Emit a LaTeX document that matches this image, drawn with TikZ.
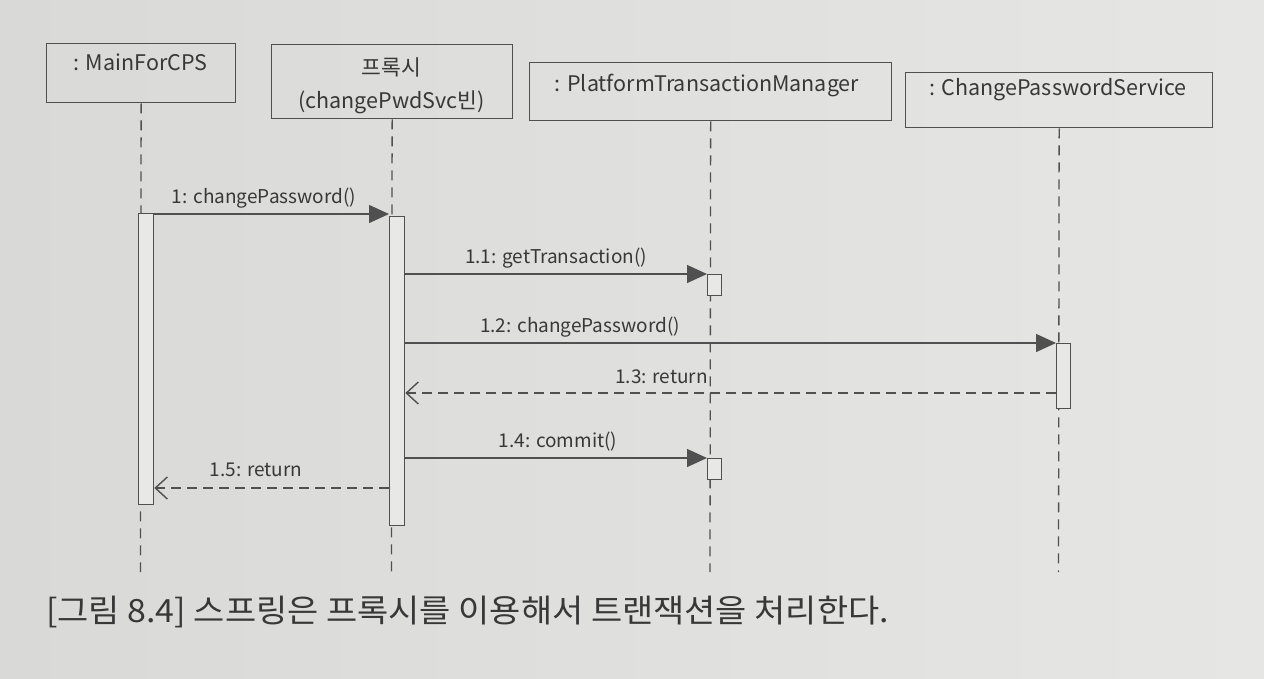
\documentclass[tikz,border=0pt]{standalone}
\usepackage{fontspec}
\usepackage{graphicx}
\setmainfont{Noto Sans CJK KR}
\usetikzlibrary{arrows.meta}
\definecolor{bgl}{HTML}{D9D9D7}
\definecolor{bgr}{HTML}{E6E6E4}
\definecolor{ink}{HTML}{505050}
\definecolor{txt}{HTML}{383838}
\definecolor{actfill}{HTML}{E8E8E6}
\begin{document}
\begin{tikzpicture}[x=1pt,y=-1pt,
  obj/.style={draw=ink, line width=1.3pt, rectangle, inner sep=0pt, anchor=north west},
  objtxt/.style={text=txt, inner sep=0pt, font=\fontsize{21.5}{25}\selectfont},
  life/.style={draw=ink, line width=1.3pt, dash pattern=on 10pt off 7pt},
  act/.style={draw=ink, line width=1.3pt, fill=actfill, rectangle, inner sep=0pt, anchor=north west},
  call/.style={draw=ink, line width=1.4pt, -{Triangle[length=20pt,width=18pt]}},
  ret/.style={draw=ink, line width=1.4pt, dash pattern=on 10pt off 6pt, -{Straight Barb[length=12pt,width=22pt]}},
  lbl/.style={text=txt, inner sep=0pt, font=\fontsize{19}{23}\selectfont}]
\shade[left color=bgl, right color=bgr] (0,0) rectangle (1264,678);
\useasboundingbox (0,0) rectangle (1264,678);
% object boxes
\node[obj, minimum width=189pt, minimum height=59pt] (main) at (46,43) {};
\node[obj, minimum width=241pt, minimum height=74pt] (proxy) at (271,44) {};
\node[obj, minimum width=362pt, minimum height=58pt] (ptm) at (529,62) {};
\node[obj, minimum width=307pt, minimum height=55pt] (cps) at (905,72) {};
\node[objtxt] (maint) at (140.5,62) {: MainForCPS};
\node[objtxt] (proxyt1) at (391.5,67) {프록시};
\node[objtxt] (proxyt2) at (391.5,102) {(changePwdSvc빈)};
\node[objtxt] (ptmt) at (707,85) {: PlatformTransactionManager};
\node[objtxt] (cpst) at (1058,90) {: ChangePasswordService};
% lifeline ends
\coordinate (mainend) at (140.5,572);
\coordinate (proxyend) at (391.5,572);
\coordinate (ptmend) at (710,572);
\coordinate (cpsend) at (1058.5,572);
\draw[life] (main.south) -- (mainend);
\draw[life] (proxy.south) -- (proxyend);
\draw[life] (ptm.south) -- (ptmend);
\draw[life] (cps.south) -- (cpsend);
% activation bars
\node[act, minimum width=15pt, minimum height=291pt] (mainbar) at (138,213) {};
\node[act, minimum width=15pt, minimum height=309pt] (proxybar) at (389,216) {};
\node[act, minimum width=14pt, minimum height=21pt] (ptmbar1) at (707,274) {};
\node[act, minimum width=14pt, minimum height=21pt] (ptmbar2) at (707,458) {};
\node[act, minimum width=14pt, minimum height=65pt] (cpsbar) at (1056,343) {};
% messages
\draw[call] (mainbar.east |- 0,214) -- (proxybar.west |- 0,214);
\node[lbl] (l1) at (264,198) {1: changePassword()};
\draw[call] (proxybar.east |- 0,274) -- (ptmbar1.north west);
\node[lbl] (l11) at (556,258) {1.1: getTransaction()};
\draw[call] (proxybar.east |- 0,343) -- (cpsbar.north west);
\node[lbl] (l12) at (580,327) {1.2: changePassword()};
\draw[ret] (cpsbar.west |- 0,393) -- (proxybar.east |- 0,393);
\node[lbl, anchor=east] (l13) at (708,377) {1.3: return};
\draw[call] (proxybar.east |- 0,458) -- (ptmbar2.north west);
\node[lbl] (l14) at (558,442) {1.4: commit()};
\draw[ret] (proxybar.west |- 0,488) -- (mainbar.east |- 0,488);
\node[lbl] (l15) at (256,470) {1.5: return};
% caption
\node[text=txt, inner sep=0pt, anchor=west, font=\fontsize{32}{36}\selectfont] (cap) at (46,612) {\scalebox{1.06}[1]{[그림 8.4] 스프링은 프록시를 이용해서 트랜잭션을 처리한다.}};
\end{tikzpicture}
\end{document}
